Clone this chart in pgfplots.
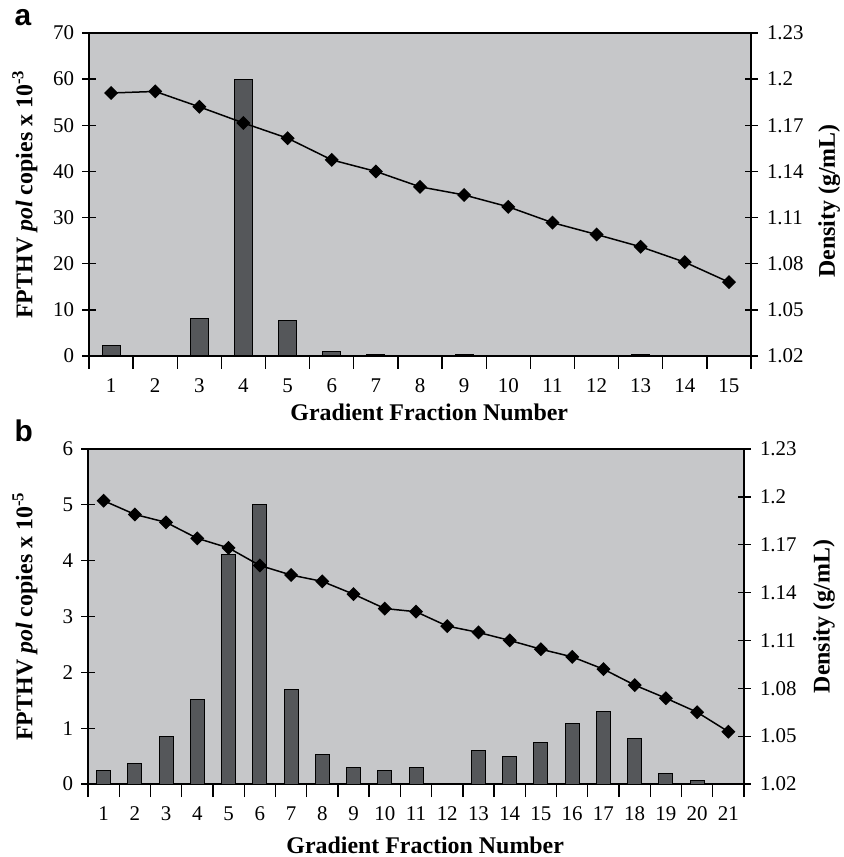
\documentclass[border=0pt]{standalone}
\usepackage{fontspec}
\setmainfont{Liberation Serif}
\newfontfamily\panelfont{Liberation Sans}
\usepackage{pgfplots}
\pgfplotsset{compat=1.18}
\definecolor{bggray}{HTML}{C6C7C9}
\definecolor{bardark}{HTML}{55575A}

\pgfplotsset{
  base/.style={scale only axis, anchor=north west, clip=false,
    /pgf/number format/assume math mode=true,
    tick label style={font=\fontsize{21}{25}\selectfont},
    label style={font=\fontsize{24}{28}\selectfont\bfseries},
    major tick length=13bp, tick align=center,
    axis line style={line width=1.3bp},
    tick style={black, line width=1.3bp},
    xticklabel style={yshift=-6bp},
  },
  leftax/.style={base, yticklabel style={xshift=-5bp}},
  rightax/.style={base, yticklabel style={xshift=6bp}},
  densline/.style={black, line width=1.5bp, mark=square*, mark size=4.2bp,
    mark options={rotate=45}},
  bars/.style={fill=bardark, draw=black, line width=1bp},
}

\begin{document}
\begin{tikzpicture}
\path (0,0) rectangle (838bp,-857bp);
\node[font=\fontsize{30}{34}\selectfont\panelfont\bfseries, anchor=base west] at (11bp,-25bp) {a};
\node[font=\fontsize{30}{34}\selectfont\panelfont\bfseries, anchor=base west] at (11bp,-441bp) {b};

% ---- panel a ----
\begin{axis}[leftax, at={(89bp,-33bp)}, width=662bp, height=323bp,
  xmin=0.5, xmax=15.5, ymin=0, ymax=70,
  axis background/.style={fill=bggray},
  xtick={0.5,1.5,...,15.5}, x tick label as interval,
  xticklabels={1,2,3,4,5,6,7,8,9,10,11,12,13,14,15},
  ytick={0,10,...,70}, tick pos=left,
  ybar, bar width=18bp,
  xlabel={Gradient Fraction Number},
  xlabel style={at={(axis description cs:0.514,-0.173)}, anchor=center},
  ylabel={FPTHV \textit{pol} copies x 10\textsuperscript{-3}},
  ylabel style={at={(axis description cs:-0.097,0.5)}, anchor=center},
]
\addplot[bars] coordinates {(1,2.2) (3,8.1) (4,60) (5,7.7) (6,0.9) (7,0.4) (9,0.3) (13,0.3)};
\end{axis}
\begin{axis}[rightax, at={(89bp,-33bp)}, width=662bp, height=323bp,
  xmin=0.5, xmax=15.5, ymin=1.02, ymax=1.23,
  axis x line=none, axis y line*=right,
  ytick={1.02,1.05,1.08,1.11,1.14,1.17,1.2,1.23},
  ylabel={Density (g/mL)},
  ylabel style={at={(axis description cs:1.118,0.48)}, anchor=center, rotate=0},
]
\addplot[densline] coordinates {
(1,1.191) (2,1.192) (3,1.182) (4,1.1715) (5,1.1616) (6,1.1475) (7,1.140)
(8,1.130) (9,1.1247) (10,1.117) (11,1.1067) (12,1.099) (13,1.091) (14,1.081) (15,1.068)};
\end{axis}

% ---- panel b ----
\begin{axis}[leftax, at={(88bp,-449bp)}, width=656bp, height=335bp,
  xmin=0.5, xmax=21.5, ymin=0, ymax=6,
  axis background/.style={fill=bggray},
  xtick={0.5,1.5,...,21.5}, x tick label as interval,
  xticklabels={1,2,3,4,5,6,7,8,9,10,11,12,13,14,15,16,17,18,19,20,21},
  ytick={0,1,...,6}, tick pos=left,
  ybar, bar width=14bp,
  xlabel={Gradient Fraction Number},
  xlabel style={at={(axis description cs:0.514,-0.182)}, anchor=center},
  ylabel={FPTHV \textit{pol} copies x 10\textsuperscript{-5}},
  ylabel style={at={(axis description cs:-0.096,0.5)}, anchor=center},
]
\addplot[bars] coordinates {(1,0.25) (2,0.36) (3,0.85) (4,1.52) (5,4.11) (6,5.0) (7,1.69)
(8,0.53) (9,0.29) (10,0.25) (11,0.29) (13,0.60) (14,0.50) (15,0.74) (16,1.09)
(17,1.30) (18,0.81) (19,0.18) (20,0.07)};
\end{axis}
\begin{axis}[rightax, at={(88bp,-449bp)}, width=656bp, height=335bp,
  xmin=0.5, xmax=21.5, ymin=1.02, ymax=1.23,
  axis x line=none, axis y line*=right,
  ytick={1.02,1.05,1.08,1.11,1.14,1.17,1.2,1.23},
  ylabel={Density (g/mL)},
  ylabel style={at={(axis description cs:1.122,0.5)}, anchor=center, rotate=0},
]
\addplot[densline] coordinates {
(1,1.1976) (2,1.189) (3,1.184) (4,1.174) (5,1.168) (6,1.157) (7,1.151)
(8,1.147) (9,1.139) (10,1.130) (11,1.128) (12,1.119) (13,1.115) (14,1.110)
(15,1.1045) (16,1.0997) (17,1.092) (18,1.082) (19,1.0738) (20,1.065) (21,1.0528)};
\end{axis}
\end{tikzpicture}
\end{document}
